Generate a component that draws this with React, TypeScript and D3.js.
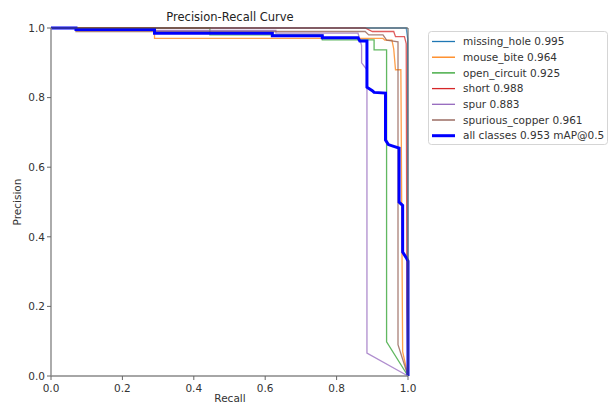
import React from "react";
import * as d3 from "d3";

type Pt = [number, number];

const classNames = ["missing_hole", "mouse_bite", "open_circuit", "short", "spur", "spurious_copper"];
const classAP = ["0.995", "0.964", "0.925", "0.988", "0.883", "0.961"];
const classColors = ["#1f77b4", "#ff7f0e", "#2ca02c", "#d62728", "#9467bd", "#8c564b"];

const missingHole: Pt[] = [[0, 1], [0.995, 1], [0.999, 0.97], [1.0, 0]];
const mouseBite: Pt[] = [[0, 1], [0.29, 1], [0.29, 0.97], [0.93, 0.97], [0.935, 0.965], [0.955, 0.965], [0.96, 0.94], [0.965, 0.88], [0.98, 0.88], [0.985, 0.07], [1.0, 0]];
const openCircuit: Pt[] = [[0, 1], [0.445, 1], [0.445, 0.98], [0.76, 0.98], [0.76, 0.966], [0.905, 0.966], [0.905, 0.937], [0.94, 0.937], [0.94, 0.098], [1.0, 0]];
const short: Pt[] = [[0, 1], [0.88, 1], [0.9, 0.99], [0.96, 0.99], [0.965, 0.975], [0.99, 0.975], [0.995, 0.955], [0.997, 0.2], [1.0, 0]];
const spur: Pt[] = [[0, 1], [0.07, 1], [0.07, 0.993], [0.63, 0.993], [0.63, 0.985], [0.86, 0.985], [0.87, 0.95], [0.87, 0.9], [0.885, 0.88], [0.885, 0.066], [1.0, 0]];
const spuriousCopper: Pt[] = [[0, 1], [0.07, 1], [0.07, 0.99], [0.88, 0.99], [0.89, 0.98], [0.93, 0.98], [0.94, 0.965], [0.972, 0.96], [0.972, 0.09], [1.0, 0]];
const classCurves: Pt[][] = [missingHole, mouseBite, openCircuit, short, spur, spuriousCopper];

const allClasses: Pt[] = [[0, 1], [0.07, 1], [0.07, 0.996], [0.29, 0.996], [0.29, 0.985], [0.62, 0.985], [0.62, 0.978], [0.76, 0.978], [0.76, 0.972], [0.86, 0.972], [0.865, 0.963], [0.885, 0.963], [0.885, 0.83], [0.9, 0.82], [0.905, 0.815], [0.937, 0.813], [0.937, 0.678], [0.945, 0.665], [0.96, 0.66], [0.975, 0.655], [0.975, 0.5], [0.985, 0.49], [0.985, 0.356], [0.995, 0.34], [1.0, 0.33], [1.0, 0]];
const allLabel = "all classes 0.953 mAP@0.5";

const ticks = [0, 0.2, 0.4, 0.6, 0.8, 1.0];

const W = 616, H = 403;
const L = 51, R = 408, T = 28, B = 376;
const FONT = "DejaVu Sans, sans-serif";

export default function App() {
  const x = d3.scaleLinear().domain([0, 1]).range([L, R]);
  const y = d3.scaleLinear().domain([0, 1]).range([B, T]);
  const line = d3.line<Pt>().x((d) => x(d[0])).y((d) => y(d[1]));

  const legendItems = classNames.map((n, i) => ({ label: `${n} ${classAP[i]}`, color: classColors[i], w: 1.3 }));
  legendItems.push({ label: allLabel, color: "#0000ff", w: 3 });

  return (
    <svg width={W} height={H} style={{ position: "absolute", left: 0, top: 0, background: "#fff" }} fontFamily={FONT}>
      <rect x={0} y={0} width={W} height={H} fill="#fff" />
      <text x={230} y={21} textAnchor="middle" fontSize={11.5} fill="#222">Precision-Recall Curve</text>
      <defs>
        <clipPath id="plotclip">
          <rect x={L - 2} y={T - 2} width={R - L + 4} height={B - T + 4} />
        </clipPath>
      </defs>
      <g clipPath="url(#plotclip)">
        {classCurves.map((c, i) => (
          <path key={i} d={line(c) || ""} fill="none" stroke={classColors[i]} strokeWidth={1.3} strokeOpacity={0.75} />
        ))}
        <path d={line(allClasses) || ""} fill="none" stroke="#0000ff" strokeWidth={3} />
      </g>
      {/* spines */}
      <line x1={L} x2={R} y1={T} y2={T} stroke="#555" strokeWidth={1} />
      <line x1={R} x2={R} y1={T} y2={B} stroke="#555" strokeWidth={1} />
      <line x1={L} x2={L} y1={T} y2={B} stroke="#888" strokeWidth={1.4} />
      <line x1={L} x2={R} y1={B} y2={B} stroke="#888" strokeWidth={1.4} />
      {ticks.map((t) => (
        <g key={"x" + t}>
          <line x1={x(t)} x2={x(t)} y1={B} y2={B + 4} stroke="#666" />
          <text x={x(t)} y={392} textAnchor="middle" fontSize={10.5} fill="#333">{t.toFixed(1)}</text>
        </g>
      ))}
      {ticks.map((t) => (
        <g key={"y" + t}>
          <line x1={L - 4} x2={L} y1={y(t)} y2={y(t)} stroke="#666" />
          <text x={45} y={y(t) + 3.8} textAnchor="end" fontSize={10.5} fill="#333">{t.toFixed(1)}</text>
        </g>
      ))}
      <text x={230} y={402} textAnchor="middle" fontSize={10.5} fill="#333">Recall</text>
      <text transform={`translate(21,202) rotate(-90)`} textAnchor="middle" fontSize={10.5} fill="#333">Precision</text>
      {/* legend */}
      <rect x={428.5} y={31.5} width={179} height={113} rx={3} fill="#fff" stroke="#d5d5d5" />
      {legendItems.map((it, i) => {
        const yy = 41.5 + i * 15.7;
        return (
          <g key={i}>
            <line x1={432} x2={455} y1={yy} y2={yy} stroke={it.color} strokeWidth={it.w} />
            <text x={463} y={yy + 3.7} fontSize={10.5} fill="#333">{it.label}</text>
          </g>
        );
      })}
    </svg>
  );
}
